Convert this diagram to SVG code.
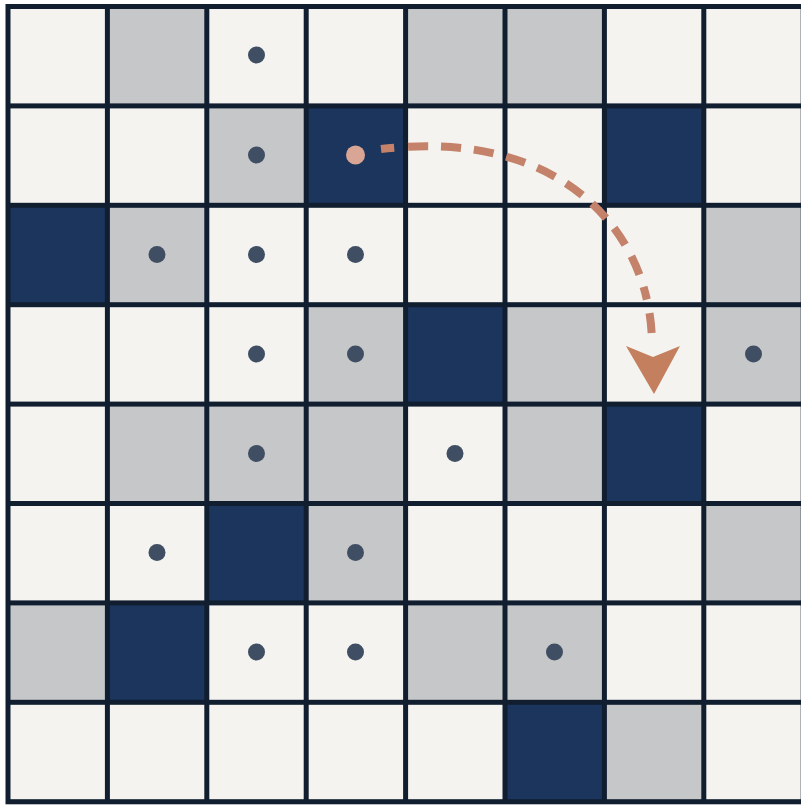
<svg xmlns="http://www.w3.org/2000/svg" width="801" height="808" viewBox="0 0 801 808">
<style>
.w{fill:#f4f3ef}
.g{fill:#c6c7c9}
.n{fill:#1b355c}
.d{fill:#3f4e63}
.o{fill:#d9a595}
</style>
<rect x="0" y="0" width="801" height="808" fill="#ffffff"/>
<rect id="frame" x="5.5" y="4" width="801" height="800.3" fill="#111e30"/>
<g id="cells">
<g id="r0c0"><rect class="w" x="10.5" y="9" width="94.4" height="94.4"/></g>
<g id="r0c1"><rect class="g" x="109.9" y="9" width="94.4" height="94.4"/></g>
<g id="r0c2"><rect class="w" x="209.3" y="9" width="94.4" height="94.4"/><circle class="d" cx="256.5" cy="55" r="8.5"/></g>
<g id="r0c3"><rect class="w" x="308.7" y="9" width="94.4" height="94.4"/></g>
<g id="r0c4"><rect class="g" x="408.1" y="9" width="94.4" height="94.4"/></g>
<g id="r0c5"><rect class="g" x="507.5" y="9" width="94.4" height="94.4"/></g>
<g id="r0c6"><rect class="w" x="606.9" y="9" width="94.4" height="94.4"/></g>
<g id="r0c7"><rect class="w" x="706.3" y="9" width="94.4" height="94.4"/></g>

<g id="r1c0"><rect class="w" x="10.5" y="108.4" width="94.4" height="94.4"/></g>
<g id="r1c1"><rect class="w" x="109.9" y="108.4" width="94.4" height="94.4"/></g>
<g id="r1c2"><rect class="g" x="209.3" y="108.4" width="94.4" height="94.4"/><circle class="d" cx="256.5" cy="155" r="8.5"/></g>
<g id="r1c3"><rect class="n" x="308.7" y="108.4" width="94.4" height="94.4"/><circle class="o" cx="355.5" cy="155" r="9.5"/></g>
<g id="r1c4"><rect class="w" x="408.1" y="108.4" width="94.4" height="94.4"/></g>
<g id="r1c5"><rect class="w" x="507.5" y="108.4" width="94.4" height="94.4"/></g>
<g id="r1c6"><rect class="n" x="606.9" y="108.4" width="94.4" height="94.4"/></g>
<g id="r1c7"><rect class="w" x="706.3" y="108.4" width="94.4" height="94.4"/></g>

<g id="r2c0"><rect class="n" x="10.5" y="207.8" width="94.4" height="94.4"/></g>
<g id="r2c1"><rect class="g" x="109.9" y="207.8" width="94.4" height="94.4"/><circle class="d" cx="157" cy="254.5" r="8.5"/></g>
<g id="r2c2"><rect class="w" x="209.3" y="207.8" width="94.4" height="94.4"/><circle class="d" cx="256.5" cy="254.5" r="8.5"/></g>
<g id="r2c3"><rect class="w" x="308.7" y="207.8" width="94.4" height="94.4"/><circle class="d" cx="355.5" cy="254.5" r="8.5"/></g>
<g id="r2c4"><rect class="w" x="408.1" y="207.8" width="94.4" height="94.4"/></g>
<g id="r2c5"><rect class="w" x="507.5" y="207.8" width="94.4" height="94.4"/></g>
<g id="r2c6"><rect class="w" x="606.9" y="207.8" width="94.4" height="94.4"/></g>
<g id="r2c7"><rect class="g" x="706.3" y="207.8" width="94.4" height="94.4"/></g>

<g id="r3c0"><rect class="w" x="10.5" y="307.2" width="94.4" height="94.4"/></g>
<g id="r3c1"><rect class="w" x="109.9" y="307.2" width="94.4" height="94.4"/></g>
<g id="r3c2"><rect class="w" x="209.3" y="307.2" width="94.4" height="94.4"/><circle class="d" cx="256.5" cy="354" r="8.5"/></g>
<g id="r3c3"><rect class="g" x="308.7" y="307.2" width="94.4" height="94.4"/><circle class="d" cx="355.5" cy="354" r="8.5"/></g>
<g id="r3c4"><rect class="n" x="408.1" y="307.2" width="94.4" height="94.4"/></g>
<g id="r3c5"><rect class="g" x="507.5" y="307.2" width="94.4" height="94.4"/></g>
<g id="r3c6"><rect class="w" x="606.9" y="307.2" width="94.4" height="94.4"/></g>
<g id="r3c7"><rect class="g" x="706.3" y="307.2" width="94.4" height="94.4"/><circle class="d" cx="753.5" cy="354" r="8.5"/></g>

<g id="r4c0"><rect class="w" x="10.5" y="406.6" width="94.4" height="94.4"/></g>
<g id="r4c1"><rect class="g" x="109.9" y="406.6" width="94.4" height="94.4"/></g>
<g id="r4c2"><rect class="g" x="209.3" y="406.6" width="94.4" height="94.4"/><circle class="d" cx="256.5" cy="453.5" r="8.5"/></g>
<g id="r4c3"><rect class="g" x="308.7" y="406.6" width="94.4" height="94.4"/></g>
<g id="r4c4"><rect class="w" x="408.1" y="406.6" width="94.4" height="94.4"/><circle class="d" cx="455" cy="453.5" r="8.5"/></g>
<g id="r4c5"><rect class="g" x="507.5" y="406.6" width="94.4" height="94.4"/></g>
<g id="r4c6"><rect class="n" x="606.9" y="406.6" width="94.4" height="94.4"/></g>
<g id="r4c7"><rect class="w" x="706.3" y="406.6" width="94.4" height="94.4"/></g>

<g id="r5c0"><rect class="w" x="10.5" y="506" width="94.4" height="94.4"/></g>
<g id="r5c1"><rect class="w" x="109.9" y="506" width="94.4" height="94.4"/><circle class="d" cx="157" cy="552.5" r="8.5"/></g>
<g id="r5c2"><rect class="n" x="209.3" y="506" width="94.4" height="94.4"/></g>
<g id="r5c3"><rect class="g" x="308.7" y="506" width="94.4" height="94.4"/><circle class="d" cx="355.5" cy="552.5" r="8.5"/></g>
<g id="r5c4"><rect class="w" x="408.1" y="506" width="94.4" height="94.4"/></g>
<g id="r5c5"><rect class="w" x="507.5" y="506" width="94.4" height="94.4"/></g>
<g id="r5c6"><rect class="w" x="606.9" y="506" width="94.4" height="94.4"/></g>
<g id="r5c7"><rect class="g" x="706.3" y="506" width="94.4" height="94.4"/></g>

<g id="r6c0"><rect class="g" x="10.5" y="605.4" width="94.4" height="94.4"/></g>
<g id="r6c1"><rect class="n" x="109.9" y="605.4" width="94.4" height="94.4"/></g>
<g id="r6c2"><rect class="w" x="209.3" y="605.4" width="94.4" height="94.4"/><circle class="d" cx="256.5" cy="652" r="8.5"/></g>
<g id="r6c3"><rect class="w" x="308.7" y="605.4" width="94.4" height="94.4"/><circle class="d" cx="355.5" cy="652" r="8.5"/></g>
<g id="r6c4"><rect class="g" x="408.1" y="605.4" width="94.4" height="94.4"/></g>
<g id="r6c5"><rect class="g" x="507.5" y="605.4" width="94.4" height="94.4"/><circle class="d" cx="554.5" cy="652" r="8.5"/></g>
<g id="r6c6"><rect class="w" x="606.9" y="605.4" width="94.4" height="94.4"/></g>
<g id="r6c7"><rect class="w" x="706.3" y="605.4" width="94.4" height="94.4"/></g>

<g id="r7c0"><rect class="w" x="10.5" y="704.8" width="94.4" height="94.4"/></g>
<g id="r7c1"><rect class="w" x="109.9" y="704.8" width="94.4" height="94.4"/></g>
<g id="r7c2"><rect class="w" x="209.3" y="704.8" width="94.4" height="94.4"/></g>
<g id="r7c3"><rect class="w" x="308.7" y="704.8" width="94.4" height="94.4"/></g>
<g id="r7c4"><rect class="w" x="408.1" y="704.8" width="94.4" height="94.4"/></g>
<g id="r7c5"><rect class="n" x="507.5" y="704.8" width="94.4" height="94.4"/></g>
<g id="r7c6"><rect class="g" x="606.9" y="704.8" width="94.4" height="94.4"/></g>
<g id="r7c7"><rect class="w" x="706.3" y="704.8" width="94.4" height="94.4"/></g>
</g>
<g id="connectors">
<path d="M381,149 C560,128 650,230 652,342" fill="none" stroke="#c4826a" stroke-width="8" stroke-dasharray="13 14 20 13 20 13 20 13 20 13 20 13 20 13 20 13 20 13 20 13" />
<polygon points="626,346 653,357 680,346 654,394" fill="#c4805e"/>
</g>
</svg>
